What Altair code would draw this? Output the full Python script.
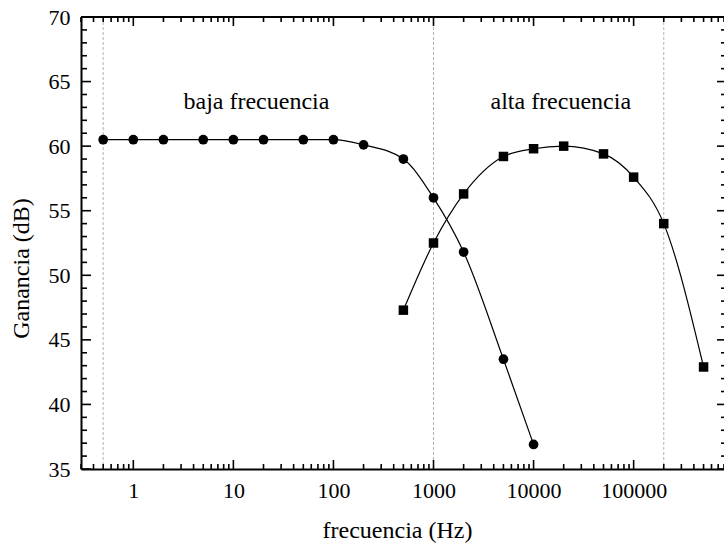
import altair as alt
import pandas as pd

# Amplifier gain vs frequency: low-frequency and high-frequency measurements
freq_baja = [0.5, 1, 2, 5, 10, 20, 50, 100, 200, 500, 1000, 2000, 5000, 10000]
gan_baja = [60.5, 60.5, 60.5, 60.5, 60.5, 60.5, 60.5, 60.5, 60.1, 59.0, 56.0, 51.8, 43.5, 36.9]

freq_alta = [500, 1000, 2000, 5000, 10000, 20000, 50000, 100000, 200000, 500000]
gan_alta = [47.3, 52.5, 56.3, 59.2, 59.8, 60.0, 59.4, 57.6, 54.0, 42.9]

# cut-off frequencies marked with dashed lines
cortes = [0.5, 1000, 200000]

x_labels = [1, 10, 100, 1000, 10000, 100000]
y_labels = [35, 40, 45, 50, 55, 60, 65, 70]

etiquetas = ["baja frecuencia", "alta frecuencia"]
etiqueta_x = [17, 18700]
etiqueta_y = [62.9, 62.9]

X_MIN, X_MAX = 0.3, 800000
Y_MIN, Y_MAX = 35, 70
W, H = 643, 452
PAD_L, PAD_T = 81, 17
FONT = "Liberation Serif"
FS_TICK = 22
FS_TEXT = 24

# minor/major tick positions for the inward-facing frame ticks
x_major = [v for v in [10.0 ** e for e in range(-1, 7)] if X_MIN <= v <= X_MAX]
x_minor = sorted(
    m * 10.0 ** e
    for e in range(-1, 6)
    for m in range(2, 10)
    if X_MIN <= m * 10.0 ** e <= X_MAX
)
y_major = y_labels
y_minor = [v for v in range(Y_MIN, Y_MAX + 1) if v % 5 != 0]

xs = alt.Scale(type="log", domain=[X_MIN, X_MAX], nice=False)
ys = alt.Scale(domain=[Y_MIN, Y_MAX], nice=False, zero=False)

baja = pd.DataFrame({"f": freq_baja, "g": gan_baja})
alta = pd.DataFrame({"f": freq_alta, "g": gan_alta})

x_axis = alt.Axis(
    values=x_labels, format="d", ticks=False, grid=False,
    domain=True, domainColor="black", domainWidth=2,
    labelFont=FONT, labelFontSize=FS_TICK, labelColor="black",
    labelBaseline="alphabetic", labelPadding=28, labelFlush=False,
    title="frecuencia (Hz)", titleFont=FONT, titleFontSize=FS_TEXT,
    titleFontWeight="normal", titleColor="black",
    titleX=316, titleY=68, titleBaseline="alphabetic",
)
y_axis = alt.Axis(
    values=y_labels, ticks=False, grid=False,
    domain=True, domainColor="black", domainWidth=2,
    labelFont=FONT, labelFontSize=FS_TICK, labelColor="black",
    labelPadding=11, labelFlush=False,
    title="Ganancia (dB)", titleFont=FONT, titleFontSize=FS_TEXT,
    titleFontWeight="normal", titleColor="black",
    titleX=-53, titleY=251, titleBaseline="alphabetic", titleAngle=-90,
)

lineas_corte = alt.Chart(pd.DataFrame({"f": cortes})).mark_rule(
    color="#b4b4b4", strokeWidth=1, strokeDash=[3, 2]
).encode(x=alt.X("f:Q", scale=xs, axis=x_axis))

curva_baja = alt.Chart(baja).mark_line(
    color="black", strokeWidth=1.2, interpolate="monotone"
).encode(
    x=alt.X("f:Q", scale=xs, axis=x_axis),
    y=alt.Y("g:Q", scale=ys, axis=y_axis),
)
puntos_baja = alt.Chart(baja).mark_point(
    shape="circle", filled=True, color="black", opacity=1, size=95
).encode(x=alt.X("f:Q", scale=xs), y=alt.Y("g:Q", scale=ys))

curva_alta = alt.Chart(alta).mark_line(
    color="black", strokeWidth=1.2, interpolate="monotone"
).encode(x=alt.X("f:Q", scale=xs), y=alt.Y("g:Q", scale=ys))
puntos_alta = alt.Chart(alta).mark_point(
    shape="square", filled=True, color="black", opacity=1, size=90
).encode(x=alt.X("f:Q", scale=xs), y=alt.Y("g:Q", scale=ys))

textos = alt.Chart(
    pd.DataFrame({"f": etiqueta_x, "g": etiqueta_y, "t": etiquetas})
).mark_text(font=FONT, fontSize=FS_TEXT, align="center", baseline="alphabetic", color="black").encode(
    x=alt.X("f:Q", scale=xs), y=alt.Y("g:Q", scale=ys), text="t:N"
)


def ticks_x(values, length, at_top):
    y0 = 0 if at_top else H
    y1 = length if at_top else H - length
    return alt.Chart(pd.DataFrame({"f": values})).mark_rule(
        color="black", strokeWidth=1.6
    ).encode(x=alt.X("f:Q", scale=xs), y=alt.value(y0), y2=alt.value(y1))


def ticks_y(values, length, at_right):
    x0 = W if at_right else 0
    x1 = W - length if at_right else length
    return alt.Chart(pd.DataFrame({"g": values})).mark_rule(
        color="black", strokeWidth=1.6
    ).encode(y=alt.Y("g:Q", scale=ys), x=alt.value(x0), x2=alt.value(x1))


marco_superior = alt.Chart(pd.DataFrame({"g": [Y_MAX]})).mark_rule(
    color="black", strokeWidth=2
).encode(y=alt.Y("g:Q", scale=ys), x=alt.value(0), x2=alt.value(W))

chart = alt.layer(
    lineas_corte,
    curva_baja,
    curva_alta,
    puntos_baja,
    puntos_alta,
    textos,
    marco_superior,
    ticks_x(x_major, 9, False),
    ticks_x(x_minor, 5, False),
    ticks_x(x_major, 9, True),
    ticks_x(x_minor, 5, True),
    ticks_y(y_major, 10, False),
    ticks_y(y_minor, 6, False),
    ticks_y(y_major, 7, True),
    ticks_y(y_minor, 3, True),
).properties(
    width=W, height=H,
    autosize=alt.AutoSizeParams(type="none"),
    padding={"left": PAD_L, "top": PAD_T, "right": 724 - PAD_L - W, "bottom": 551 - PAD_T - H},
    background="white",
).configure_view(stroke=None)

chart.save("out.html", embed_options={"renderer": "svg", "actions": False})
